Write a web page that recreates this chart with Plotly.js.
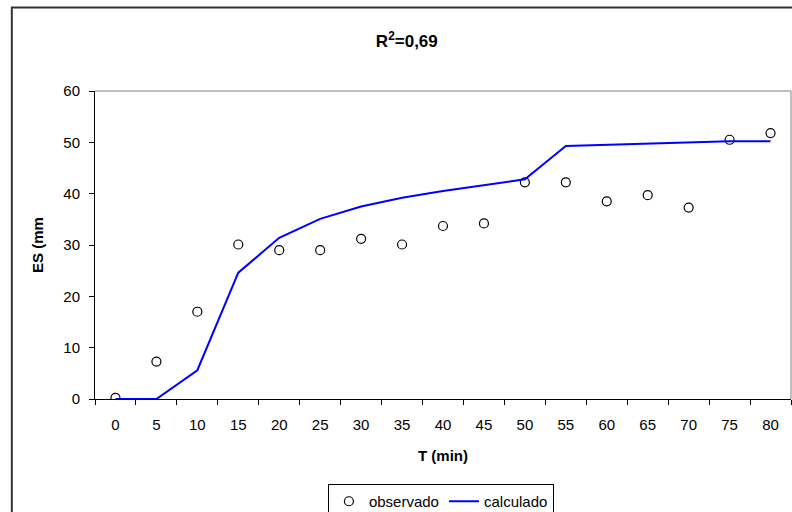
<!DOCTYPE html>
<html>
<head>
<meta charset="utf-8">
<script src="https://cdn.plot.ly/plotly-3.0.1.min.js"></script>
<style>
  html, body { margin: 0; padding: 0; background: #fff; }
  #chart { width: 792px; height: 512px; }
</style>
</head>
<body>
<div id="chart"></div>
<script>
// T (min) categories
const tempos = ['0', '5', '10', '15', '20', '25', '30', '35', '40', '45', '50', '55', '60', '65', '70', '75', '80'];

// ES values
const observado = [0.2, 7.3, 17.0, 30.1, 29.0, 29.0, 31.2, 30.1, 33.7, 34.2, 42.2, 42.2, 38.5, 39.7, 37.3, 50.5, 51.8];
const calculado = [0, 0, 5.6, 24.6, 31.4, 35.1, 37.5, 39.2, 40.5, 41.6, 42.8, 49.3, 49.5, 49.8, 50.0, 50.2, 50.2];

const yTicks = [0, 10, 20, 30, 40, 50, 60];

const FONT = 'Liberation Sans, Arial, sans-serif';

const traces = [
    {
        x: tempos, y: observado, type: 'scatter', mode: 'markers', name: 'observado',
        marker: { symbol: 'circle-open', size: 9, color: '#000', line: { width: 1.2, color: '#000' } }
    },
    {
        x: tempos, y: calculado, type: 'scatter', mode: 'lines', name: 'calculado',
        line: { color: '#0000ff', width: 2 }
    }
];

const layout = {
    width: 792, height: 512,
    margin: { l: 95, r: 1, t: 91, b: 113, autoexpand: false },
    paper_bgcolor: '#fff', plot_bgcolor: '#fff',
    font: { family: FONT, size: 15, color: '#000' },
    showlegend: true,
    title: {
        text: 'R<sup>2</sup>=0,69',
        font: { family: FONT, size: 17, color: '#000', weight: 'bold' },
        x: 0.448, xanchor: 'center', xref: 'paper',
        y: 0.92, yanchor: 'middle', yref: 'container'
    },
    xaxis: {
        type: 'category',
        range: [-0.5, 16.5],
        tickson: 'boundaries',
        ticks: 'outside', ticklen: 5, tickcolor: '#000', tickwidth: 1,
        ticklabelstandoff: 12,
        showline: true, linecolor: '#000', linewidth: 1,
        showgrid: false, zeroline: false,
        tickfont: { family: FONT, size: 15 },
        title: { text: 'T (min)', font: { family: FONT, size: 15, weight: 'bold' }, standoff: 18 }
    },
    yaxis: {
        range: [0, 60],
        tickvals: yTicks,
        ticks: 'outside', ticklen: 5, tickcolor: '#000', tickwidth: 1,
        ticklabelstandoff: 6,
        showline: true, linecolor: '#000', linewidth: 1,
        showgrid: false, zeroline: false,
        tickfont: { family: FONT, size: 15 },
        title: { text: 'ES (mm', font: { family: FONT, size: 15, weight: 'bold' }, standoff: 16 }
    },
    legend: {
        orientation: 'h',
        x: 0.497, xanchor: 'center',
        y: -0.276, yanchor: 'top',
        bordercolor: '#000', borderwidth: 1,
        font: { family: FONT, size: 15 },
        itemwidth: 30,
        tracegroupgap: 0
    },
    shapes: [
        // gray plot frame, top and right
        { type: 'line', xref: 'paper', yref: 'paper', x0: 0, x1: 1, y0: 1, y1: 1, line: { color: '#808080', width: 1 } },
        { type: 'line', xref: 'paper', yref: 'paper', x0: 1, x1: 1, y0: 0, y1: 1, line: { color: '#808080', width: 1 } },
        // outer chart frame
        { type: 'rect', xref: 'paper', yref: 'paper', x0: -0.1195, x1: 1.1, y0: -0.6, y1: 1.2708,
          line: { color: '#333', width: 2 }, layer: 'below' }
    ]
};

Plotly.newPlot('chart', traces, layout, { staticPlot: true, displayModeBar: false });
</script>
</body>
</html>
